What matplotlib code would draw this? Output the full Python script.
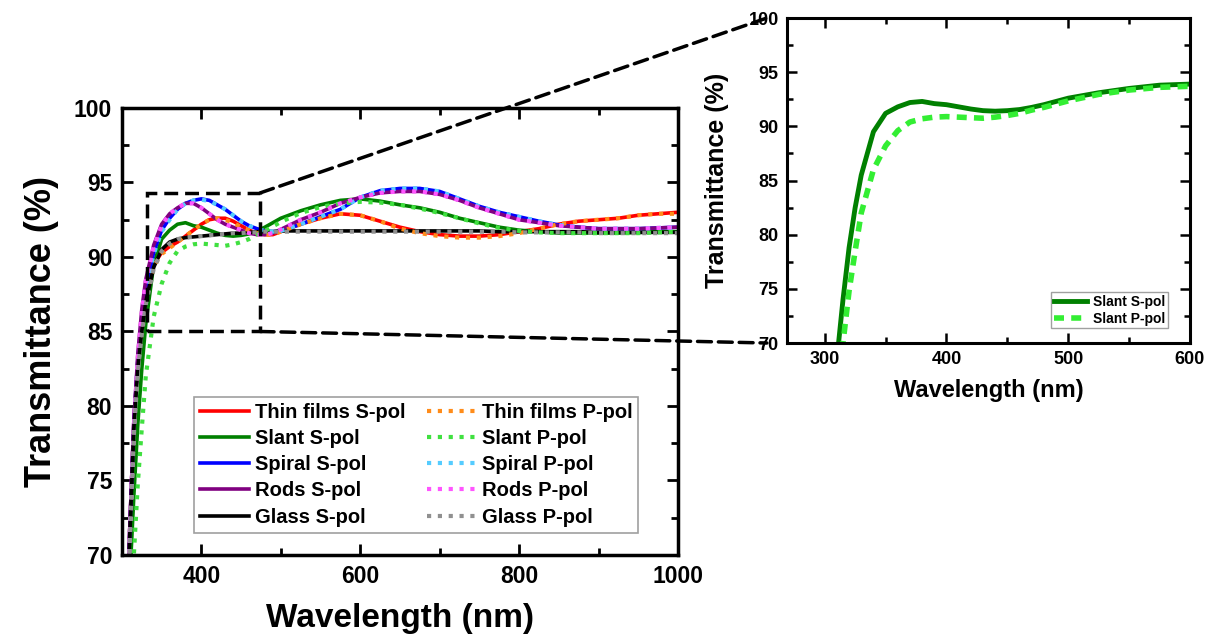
import numpy as np
import matplotlib
matplotlib.use("Agg")
import matplotlib.pyplot as plt
from matplotlib.patches import Rectangle, ConnectionPatch
from matplotlib.ticker import MultipleLocator

# wavelength grid (nm)
wavelength = [305, 310, 315, 320, 325, 330, 340, 350, 360, 370, 380, 390, 400,
              410, 420, 430, 440, 450, 460, 470, 480, 490, 500, 525, 550, 575,
              600, 625, 650, 675, 700, 725, 750, 775, 800, 825, 850, 875, 900,
              925, 950, 975, 1000]

thin_s = [64, 72, 79, 83, 85.5, 87.3, 89.5, 90.3, 90.7, 91.0, 91.4, 91.8, 92.2,
          92.5, 92.6, 92.6, 92.4, 92.1, 91.8, 91.6, 91.5, 91.5, 91.7, 92.2, 92.6, 92.9,
          92.8, 92.4, 92.0, 91.7, 91.5, 91.4, 91.4, 91.5, 91.7, 91.9, 92.2, 92.4, 92.5,
          92.6, 92.8, 92.9, 93.0]
thin_p = [64, 71.5, 78.5, 82.8, 85.3, 87.2, 89.4, 90.2, 90.6, 91.0, 91.4, 91.8, 92.2,
          92.5, 92.6, 92.5, 92.3, 92.0, 91.8, 91.6, 91.5, 91.5, 91.7, 92.2, 92.6, 92.9,
          92.8, 92.4, 91.9, 91.6, 91.4, 91.3, 91.3, 91.4, 91.6, 91.9, 92.2, 92.4, 92.5,
          92.6, 92.8, 92.9, 92.9]
slant_s = [60, 68.5, 74, 78.8, 82.5, 85.5, 89.5, 91.2, 91.8, 92.2, 92.3, 92.1, 92.0,
           91.8, 91.6, 91.45, 91.4, 91.45, 91.55, 91.75, 92.0, 92.3, 92.6, 93.1, 93.5, 93.8,
           93.9, 93.75, 93.5, 93.3, 93.0, 92.6, 92.3, 92.0, 91.8, 91.7, 91.6, 91.6, 91.6,
           91.6, 91.65, 91.7, 91.7]
slant_p = [55, 63, 70, 74.8, 78.5, 82.0, 86.0, 88.2, 89.6, 90.4, 90.7, 90.85, 90.9,
           90.85, 90.8, 90.75, 90.85, 91.0, 91.2, 91.5, 91.75, 92.05, 92.35, 92.95, 93.35, 93.6,
           93.7, 93.65, 93.5, 93.25, 92.95, 92.6, 92.25, 91.95, 91.75, 91.65, 91.6, 91.6, 91.6,
           91.6, 91.6, 91.65, 91.7]
spiral_s = [64, 72, 79, 83.2, 86, 88, 90.3, 91.8, 92.6, 93.2, 93.6, 93.8, 93.9,
            93.8, 93.5, 93.2, 92.8, 92.4, 92.1, 91.9, 91.75, 91.7, 91.75, 92.2, 92.7, 93.2,
            94.0, 94.45, 94.6, 94.6, 94.4, 93.9, 93.4, 93.0, 92.7, 92.4, 92.15, 92.0, 91.9,
            91.9, 91.9, 91.95, 92.0]
spiral_p = [64, 71.5, 78.5, 83.0, 85.8, 87.9, 90.2, 91.7, 92.5, 93.2, 93.6, 93.8, 93.85,
            93.75, 93.5, 93.2, 92.8, 92.4, 92.1, 91.9, 91.75, 91.7, 91.75, 92.2, 92.7, 93.2,
            94.0, 94.45, 94.6, 94.6, 94.4, 93.9, 93.4, 93.0, 92.7, 92.4, 92.15, 92.0, 91.9,
            91.9, 91.9, 91.95, 92.0]
rods_s = [64, 72, 79, 83.5, 86.5, 88.5, 90.8, 92.2, 92.9, 93.3, 93.6, 93.6, 93.3,
          92.9, 92.5, 92.2, 92.0, 91.8, 91.6, 91.5, 91.5, 91.6, 91.85, 92.5, 93.0, 93.6,
          94.0, 94.3, 94.4, 94.4, 94.2, 93.8, 93.3, 92.9, 92.5, 92.3, 92.1, 92.0, 91.9,
          91.9, 91.9, 91.95, 92.0]
rods_p = [64, 71.5, 78.5, 83.3, 86.3, 88.4, 90.7, 92.1, 92.9, 93.3, 93.6, 93.6, 93.3,
          92.9, 92.5, 92.2, 92.0, 91.8, 91.6, 91.5, 91.5, 91.6, 91.85, 92.5, 93.0, 93.6,
          94.0, 94.3, 94.4, 94.4, 94.2, 93.8, 93.3, 92.9, 92.5, 92.3, 92.1, 92.0, 91.9,
          91.9, 91.9, 91.95, 92.0]
glass_s = [64, 71.5, 78.5, 82.5, 85.0, 87.0, 89.3, 90.5, 91.0, 91.2, 91.3, 91.35, 91.4,
           91.45, 91.5, 91.55, 91.6, 91.6, 91.65, 91.7, 91.7, 91.7, 91.75, 91.75, 91.75, 91.75,
           91.75, 91.75, 91.75, 91.75, 91.75, 91.75, 91.75, 91.7, 91.7, 91.7, 91.7, 91.7, 91.65,
           91.65, 91.65, 91.65, 91.65]
glass_p = [64, 71.0, 78.0, 82.3, 84.8, 86.8, 89.2, 90.4, 90.9, 91.2, 91.3, 91.35, 91.4,
           91.45, 91.5, 91.55, 91.6, 91.6, 91.65, 91.65, 91.7, 91.7, 91.7, 91.7, 91.7, 91.7,
           91.7, 91.7, 91.7, 91.7, 91.7, 91.7, 91.7, 91.7, 91.65, 91.65, 91.65, 91.65, 91.6,
           91.6, 91.6, 91.6, 91.6]

s_labels = ['Thin films S-pol', 'Slant S-pol', 'Spiral S-pol', 'Rods S-pol', 'Glass S-pol']
p_labels = ['Thin films P-pol', 'Slant P-pol', 'Spiral P-pol', 'Rods P-pol', 'Glass P-pol']
s_data = [thin_s, slant_s, spiral_s, rods_s, glass_s]
p_data = [thin_p, slant_p, spiral_p, rods_p, glass_p]
s_colors = ['#ff0000', '#008000', '#0000ff', '#800080', '#000000']
p_colors = ['#ff8c1a', '#40e040', '#55ccff', '#ff55ff', '#909090']

# zoom window
zoom_x = (332, 474)
zoom_y = (85.0, 94.3)

plt.rcParams['font.family'] = ['Liberation Sans', 'DejaVu Sans']
plt.rcParams['font.weight'] = 'bold'
plt.rcParams['axes.labelweight'] = 'bold'

fig = plt.figure(figsize=(12.05, 6.39), dpi=100)
fig.set_facecolor('#FFFFFF')
ax = fig.add_axes([0.1012, 0.1315, 0.4614, 0.6995])
ins = fig.add_axes([0.6531, 0.4632, 0.3344, 0.5086])

wl = np.array(wavelength)
for lab, y, c in zip(s_labels, s_data, s_colors):
    ax.plot(wl, y, color=c, lw=2.6, label=lab)
for lab, y, c in zip(p_labels, p_data, p_colors):
    ax.plot(wl, y, color=c, lw=3.0, ls=(0, (1.0, 1.6)), label=lab)

ax.set_xlim(300, 1000)
ax.set_ylim(70, 100)
ax.xaxis.set_major_locator(MultipleLocator(200))
ax.xaxis.set_minor_locator(MultipleLocator(100))
ax.yaxis.set_major_locator(MultipleLocator(5))
ax.yaxis.set_minor_locator(MultipleLocator(2.5))
ax.tick_params(which='both', direction='in', top=True, right=True, width=2)
ax.tick_params(which='major', length=8, labelsize=16.5, pad=7)
ax.tick_params(which='minor', length=5)
for sp in ax.spines.values():
    sp.set_linewidth(2.5)
ax.set_xlabel('Wavelength (nm)', fontsize=24, labelpad=11)
ax.set_ylabel('Transmittance (%)', fontsize=26, labelpad=11)

leg = ax.legend(ncol=2, loc='lower left', bbox_to_anchor=(0.13, 0.05),
                fontsize=14.5, frameon=True, fancybox=False, edgecolor='#888888',
                handlelength=2.4, handletextpad=0.3, columnspacing=1.1,
                labelspacing=0.36, borderpad=0.3, borderaxespad=0)
leg.get_frame().set_linewidth(1.2)

ax.add_patch(Rectangle((zoom_x[0], zoom_y[0]), zoom_x[1] - zoom_x[0],
                       zoom_y[1] - zoom_y[0], fill=False, ec='black',
                       lw=2.5, ls=(0, (4, 2)), zorder=5))

# inset: slant only
ins.plot(wl, slant_s, color='#008000', lw=3.5, label='Slant S-pol')
ins.plot(wl, slant_p, color='#33ee33', lw=4, ls=(0, (1.8, 1.3)), label='Slant P-pol')
ins.set_xlim(269, 600)
ins.set_ylim(70, 100)
ins.xaxis.set_major_locator(MultipleLocator(100))
ins.xaxis.set_minor_locator(MultipleLocator(50))
ins.yaxis.set_major_locator(MultipleLocator(5))
ins.yaxis.set_minor_locator(MultipleLocator(2.5))
ins.tick_params(which='both', direction='in', top=True, right=True, width=1.8)
ins.tick_params(which='major', length=7, labelsize=13, pad=6)
ins.tick_params(which='minor', length=4)
for sp in ins.spines.values():
    sp.set_linewidth(2.2)
ins.set_xlabel('Wavelength (nm)', fontsize=17, labelpad=8)
ins.set_ylabel('Transmittance (%)', fontsize=18, labelpad=14)
ileg = ins.legend(loc='lower right', bbox_to_anchor=(0.945, 0.045), fontsize=10,
                  frameon=True, fancybox=False, edgecolor='#888888',
                  handlelength=2.4, handletextpad=0.4, labelspacing=0.2,
                  borderpad=0.2, borderaxespad=0)
ileg.get_frame().set_linewidth(1.0)

# connector lines from zoom box to inset
for ya, yb in [(zoom_y[1], 1.0), (zoom_y[0], 0.0)]:
    con = ConnectionPatch(xyA=(zoom_x[1], ya), coordsA='data', axesA=ax,
                          xyB=(-0.05, yb), coordsB='axes fraction', axesB=ins,
                          color='black', lw=2.5, ls=(0, (4, 2)))
    con.set_clip_on(False)
    fig.add_artist(con)

fig.savefig('out.png', dpi=100)
